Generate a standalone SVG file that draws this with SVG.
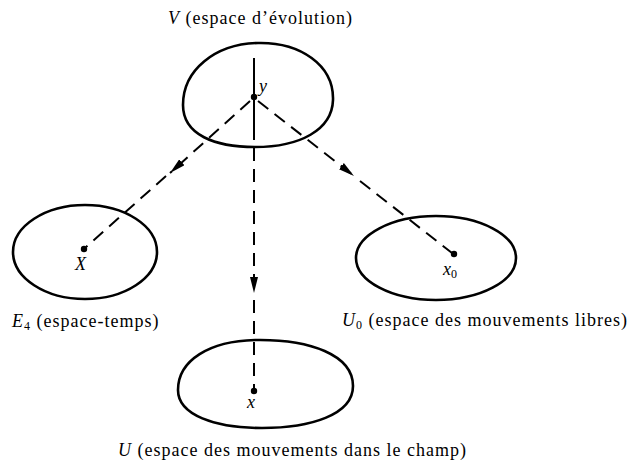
<svg xmlns="http://www.w3.org/2000/svg" width="627" height="466" viewBox="0 0 627 466">
<style>
.blob{fill:none;stroke:#000;stroke-width:2.6}
.dash{fill:none;stroke:#000;stroke-width:2;stroke-dasharray:13 8}
.solid{fill:none;stroke:#000;stroke-width:2}
.dot{fill:#000}
text{font-family:"Liberation Serif","Times New Roman",serif;font-size:18px;fill:#000}
.lbl{letter-spacing:1px}
.it{font-style:italic}
.sub{font-size:12px}
</style>
<defs>
<marker id="arr" viewBox="0 0 16 8" refX="16" refY="4" markerWidth="16" markerHeight="8" markerUnits="userSpaceOnUse" orient="auto">
<path d="M0,0 L16,4 L0,8 Z" fill="#000"/>
</marker>
</defs>
<rect width="627" height="466" fill="#fff"/>
<g id="node-V">
<path class="blob" d="M258,43 C300,42 334,65 333,100 C332,130 300,147 255,147 C215,147 183,135 183,105 C183,70 215,44 258,43 Z"/>
<circle class="dot" cx="254" cy="97" r="3.2"/>
<text x="259" y="92" class="it">y</text>
<text x="168" y="24" class="lbl"><tspan class="it">V</tspan> (espace d’évolution)</text>
</g>
<g id="node-E4">
<ellipse class="blob" cx="85" cy="252" rx="72" ry="47"/>
<circle class="dot" cx="84" cy="249" r="3.2"/>
<text x="75" y="270" class="it">X</text>
<text x="12" y="327" class="lbl"><tspan class="it">E</tspan><tspan class="sub" dy="3">4</tspan><tspan dy="-3"> (espace-temps)</tspan></text>
</g>
<g id="node-U0">
<ellipse class="blob" cx="436" cy="258" rx="80" ry="42"/>
<circle class="dot" cx="454" cy="254" r="3.2"/>
<text x="443" y="275"><tspan class="it">x</tspan><tspan class="sub" dy="3">0</tspan></text>
<text x="342" y="326" class="lbl"><tspan class="it">U</tspan><tspan class="sub" dy="3">0</tspan><tspan dy="-3"> (espace des mouvements libres)</tspan></text>
</g>
<g id="node-U">
<path class="blob" d="M255,340 C310,339 353,355 353,386 C353,415 310,428 262,428 C215,428 178,415 178,390 C178,360 210,341 255,340 Z"/>
<circle class="dot" cx="254" cy="391" r="3.2"/>
<text x="247" y="408" class="it">x</text>
<text x="118" y="456" class="lbl"><tspan class="it">U</tspan> (espace des mouvements dans le champ)</text>
</g>
<g id="connectors">
<line class="solid" x1="254" y1="58" x2="254" y2="140"/>
<line class="dash" x1="254" y1="148" x2="254" y2="293" marker-end="url(#arr)"/>
<line class="dash" x1="254" y1="300" x2="254" y2="390"/>
<line class="dash" x1="250" y1="101" x2="170" y2="173" marker-end="url(#arr)"/>
<line class="dash" x1="166" y1="176" x2="86" y2="247"/>
<line class="dash" x1="258" y1="101" x2="354" y2="176" marker-end="url(#arr)"/>
<line class="dash" x1="360" y1="181" x2="452" y2="253"/>
</g>
</svg>
